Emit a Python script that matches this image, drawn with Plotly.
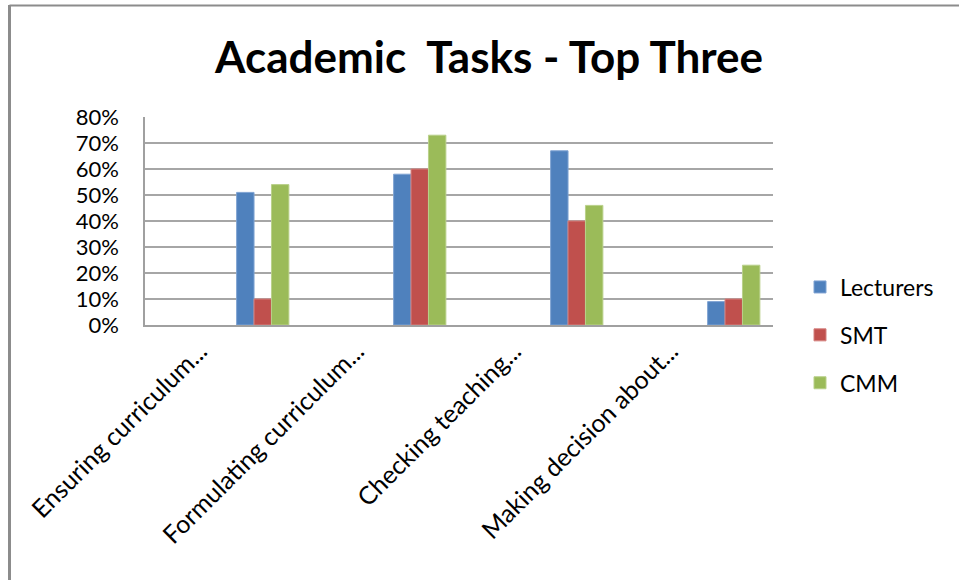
import plotly.graph_objects as go

# Task categories (each sits in its own slot, bars in the slot to its right)
categories = [
    "Ensuring curriculum...",
    "Formulating curriculum...",
    "Checking teaching...",
    "Making decision about...",
]
series_names = ["Lecturers", "SMT", "CMM"]
lecturers = [0.51, 0.58, 0.67, 0.09]
smt = [0.10, 0.60, 0.40, 0.10]
cmm = [0.54, 0.73, 0.46, 0.23]
colors = ["#4F81BD", "#C0504D", "#9BBB59"]
edge_colors = ["#7FA3D3", "#D4807E", "#B9D08A"]
y_ticks = [0.0, 0.1, 0.2, 0.3, 0.4, 0.5, 0.6, 0.7, 0.8]

W, H = 959, 580
L, R, T, B = 145, 773, 117, 325  # plot area in pixels

label_pos = [2 * i + 0.2 for i in range(len(categories))]
bar_pos = [2 * i + 1 for i in range(len(categories))]
bar_w = 0.222  # width of one bar in slot units (slot = 1)

fig = go.Figure()
n = len(series_names)
for k, (name, vals, col, edge) in enumerate(zip(series_names, [lecturers, smt, cmm], colors, edge_colors)):
    fig.add_trace(go.Bar(
        x=bar_pos, y=vals, name=name, legendgroup=name,
        width=bar_w, offset=(k - n / 2) * bar_w,
        marker=dict(color=col, line=dict(color=edge, width=1)),
    ))

def px_x(p):
    return (p - L) / (R - L)

def px_y(p):
    return (B - p) / (B - T)

fig.update_layout(
    width=W, height=H,
    margin=dict(l=L, r=W - R, t=T, b=H - B),
    paper_bgcolor="white", plot_bgcolor="white",
    barmode="overlay",
    font=dict(family="Lato", size=20, color="#000000"),
    title=dict(text="<b>Academic  Tasks - Top Three</b>", x=0.51, xanchor="center",
               y=1 - 58 / H, yanchor="middle",
               font=dict(family="Lato", size=44, color="#000000")),
    xaxis=dict(range=[-0.5, 7.5], tickmode="array", tickvals=label_pos, ticktext=categories,
               tickangle=-45, showgrid=False, showline=True, linecolor="#A0A0A0", linewidth=1.5,
               ticks="", zeroline=False, tickfont=dict(size=25)),
    yaxis=dict(range=[0, 0.8], tickmode="array", tickvals=y_ticks, tickformat=".0%",
               showgrid=True, gridcolor="#A6A6A6", gridwidth=1.5, showline=True,
               linecolor="#A0A0A0", linewidth=1.5, ticks="", zeroline=False,
               ticklabelstandoff=20, tickfont=dict(size=22)),
    legend=dict(x=px_x(800), xanchor="left", y=px_y(335), yanchor="middle",
                tracegroupgap=15, font=dict(size=23), bgcolor="rgba(0,0,0,0)"),
    showlegend=True,
    shapes=[
        dict(type="line", xref="paper", yref="paper", x0=px_x(9.5), x1=px_x(W + 5),
             y0=px_y(5.5), y1=px_y(5.5), line=dict(color="#8C8C8C", width=2)),
        dict(type="line", xref="paper", yref="paper", x0=px_x(9.5), x1=px_x(9.5),
             y0=px_y(5), y1=px_y(H + 5), line=dict(color="#8C8C8C", width=3)),
    ],
)

fig.write_html("out.html")
